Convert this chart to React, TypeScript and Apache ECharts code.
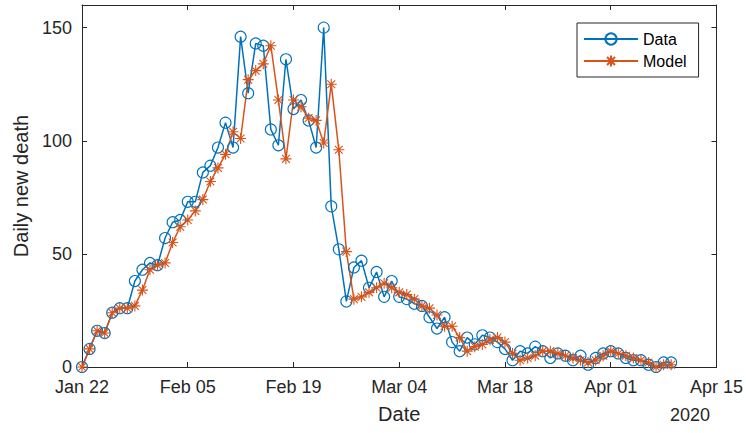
import React, { useEffect, useRef } from "react";
import * as echarts from "echarts";

const xTickLabels = ["Jan 22", "Feb 05", "Feb 19", "Mar 04", "Mar 18", "Apr 01", "Apr 15"];
const dayStep = 14;
const yearLabel = "2020";

const dataDeaths = [
  0, 8, 16, 15, 24, 26, 26, 38, 43, 46,
  45, 57, 64, 65, 73, 73, 86, 89, 97, 108,
  97, 146, 121, 143, 142, 105, 98, 136, 114, 118,
  109, 97, 150, 71, 52, 29, 44, 47, 35, 42,
  31, 38, 31, 30, 28, 27, 22, 17, 22, 11,
  7, 13, 10, 14, 13, 11, 8, 3, 7, 6,
  9, 7, 4, 6, 5, 3, 5, 1, 4, 6,
  7, 6, 4, 3, 3, 1, 0, 2, 2,
];

const modelDeaths = [
  0, 8, 16, 15, 24, 26, 26, 27, 34, 43,
  45, 46, 55, 62, 65, 69, 74, 82, 88, 94,
  104, 101, 127, 131, 134, 142, 118, 92, 118, 115,
  110, 109, 99, 125, 96, 51, 30, 31, 33, 35,
  37, 35, 33, 32, 30, 27, 26, 23, 18, 18,
  13, 7, 9, 10, 12, 13, 11, 6, 3, 4,
  5, 7, 7, 6, 5, 4, 3, 2, 3, 5,
  7, 6, 5, 4, 3, 2, 0, 1, 1,
];

const BLUE = "#0072BD";
const ORANGE = "#D95319";
const AXIS = "#262626";
const FONT = "'Liberation Sans', Arial, sans-serif";
const STAR = "path://M0,-10L0,10M-10,0L10,0M-7.1,-7.1L7.1,7.1M-7.1,7.1L7.1,-7.1";

export default function App() {
  const ref = useRef<HTMLDivElement>(null);

  useEffect(() => {
    if (!ref.current) return;
    const chart = echarts.init(ref.current, undefined, { renderer: "svg" });
    const xMax = dayStep * (xTickLabels.length - 1);

    const axisLine = { show: true, onZero: false, lineStyle: { color: AXIS, width: 1 } };
    const axisTick = { show: true, inside: true, length: 5, lineStyle: { color: AXIS, width: 1 } };
    const labelStyle = { color: AXIS, fontSize: 18, fontFamily: FONT };
    const nameStyle = { color: AXIS, fontSize: 20, fontFamily: FONT };

    chart.setOption({
      animation: false,
      backgroundColor: "#ffffff",
      grid: { left: 82, right: 29, top: 5, bottom: 66, containLabel: false },
      legend: {
        orient: "vertical",
        left: 577,
        top: 23,
        padding: [6, 12, 6, 6],
        itemGap: 2,
        itemWidth: 54,
        itemHeight: 14,
        borderColor: AXIS,
        borderWidth: 1,
        backgroundColor: "#ffffff",
        textStyle: { color: "#000000", fontSize: 16, fontFamily: FONT, lineHeight: 20 },
        data: ["Data", "Model"],
      },
      xAxis: [
        {
          type: "value",
          min: 0,
          max: xMax,
          interval: dayStep,
          position: "bottom",
          axisLine,
          axisTick,
          splitLine: { show: false },
          axisLabel: {
            ...labelStyle,
            margin: 11,
            formatter: (v: number) => xTickLabels[Math.round(v / dayStep)] ?? "",
          },
          name: "Date",
          nameLocation: "middle",
          nameGap: 37,
          nameTextStyle: nameStyle,
        },
        {
          type: "value",
          min: 0,
          max: xMax,
          interval: dayStep,
          position: "top",
          axisLine,
          axisTick,
          splitLine: { show: false },
          axisLabel: { show: false },
        },
      ],
      yAxis: [
        {
          type: "value",
          min: 0,
          max: 160,
          interval: 50,
          position: "left",
          axisLine,
          axisTick,
          splitLine: { show: false },
          axisLabel: { ...labelStyle, margin: 10, showMaxLabel: false },
          name: "Daily new death",
          nameLocation: "middle",
          nameRotate: 90,
          nameGap: 50,
          nameTextStyle: nameStyle,
        },
        {
          type: "value",
          min: 0,
          max: 160,
          interval: 50,
          position: "right",
          axisLine,
          axisTick,
          splitLine: { show: false },
          axisLabel: { show: false },
        },
      ],
      graphic: [
        {
          type: "text",
          x: 710,
          y: 415,
          style: {
            text: yearLabel,
            fill: AXIS,
            fontSize: 18,
            fontFamily: FONT,
            textAlign: "right",
            textVerticalAlign: "middle",
          },
        },
      ],
      series: [
        {
          name: "Data",
          type: "line",
          xAxisIndex: 0,
          yAxisIndex: 0,
          data: dataDeaths.map((v, i) => [i, v]),
          symbol: "circle",
          symbolSize: 11,
          showAllSymbol: true,
          lineStyle: { color: BLUE, width: 1.5 },
          itemStyle: { color: "rgba(0,0,0,0)", borderColor: BLUE, borderWidth: 1.1 },
        },
        {
          name: "Model",
          type: "line",
          xAxisIndex: 0,
          yAxisIndex: 0,
          data: modelDeaths.map((v, i) => [i, v]),
          symbol: STAR,
          symbolSize: 11,
          showAllSymbol: true,
          lineStyle: { color: ORANGE, width: 1.5 },
          itemStyle: { color: ORANGE, borderColor: ORANGE, borderWidth: 1.1 },
        },
      ],
    });

    return () => chart.dispose();
  }, []);

  return (
    <div
      ref={ref}
      style={{ position: "absolute", left: 0, top: 0, width: 746, height: 433 }}
    />
  );
}
